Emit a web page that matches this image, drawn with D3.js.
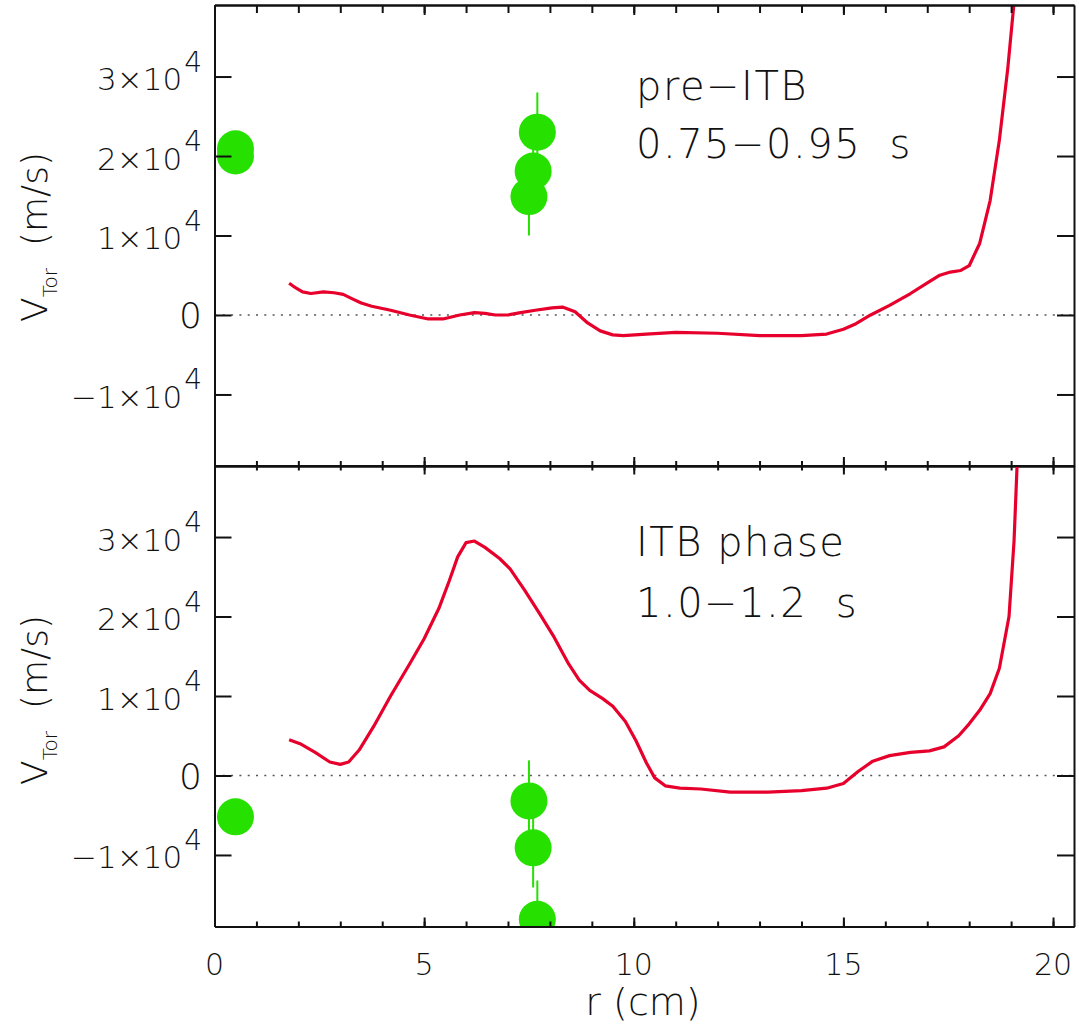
<!DOCTYPE html>
<html>
<head>
<meta charset="utf-8">
<script src="https://cdn.jsdelivr.net/npm/d3@7"></script>
<style>
  html, body { margin: 0; padding: 0; background: #fff; }
  svg text { font-family: "DejaVu Sans", sans-serif; font-weight: 200; fill: #111; }
</style>
</head>
<body>
<svg id="chart" width="1079" height="1028"></svg>
<script>
// ---- Toroidal velocity profiles, V_Tor (m/s) versus minor radius r (cm) ----

// pre-ITB phase (0.75-0.95 s): modelled profile
const preR = [1.78, 1.94, 2.1, 2.3, 2.6, 2.85, 3.07, 3.3, 3.5, 3.75, 4.2, 4.65, 5.1, 5.45, 5.85,
              6.2, 6.45, 6.7, 7.0, 7.3, 7.65, 8.05, 8.3, 8.6, 8.9, 9.2, 9.5, 9.75, 10.3, 11.0,
              12.0, 13.0, 14.0, 14.6, 15.0, 15.3, 15.65, 16.1, 16.6, 17.05, 17.3, 17.55, 17.8,
              18.0, 18.25, 18.5, 18.72, 18.92, 19.1];
const preV = [4000, 3400, 2900, 2700, 2900, 2800, 2600, 2000, 1500, 1100, 600, 0, -500, -500, 0,
              300, 200, 0, 0, 300, 600, 900, 1000, 400, -1000, -2000, -2500, -2600, -2400, -2200,
              -2300, -2600, -2600, -2400, -1800, -1100, 0, 1200, 2700, 4200, 5000, 5400, 5600,
              6200, 9000, 14400, 22000, 31000, 41000];

// pre-ITB phase: measured points with error bars
const prePtR   = [0.5, 0.5, 7.5, 7.6, 7.7];
const prePtV   = [20000, 20900, 14900, 18100, 23000];
const prePtErr = [0, 0, 4900, 5000, 5000];

// ITB phase (1.0-1.2 s): modelled profile
const itbR = [1.78, 2.04, 2.4, 2.75, 3.0, 3.2, 3.45, 3.8, 4.2, 4.65, 5.0, 5.35, 5.6, 5.8, 6.0,
              6.2, 6.45, 6.8, 7.05, 7.4, 7.75, 8.1, 8.45, 8.7, 8.95, 9.25, 9.5, 9.8, 10.05, 10.3,
              10.5, 10.75, 11.1, 11.6, 12.3, 13.2, 14.0, 14.6, 15.0, 15.35, 15.7, 16.1, 16.6,
              17.05, 17.4, 17.75, 18.0, 18.25, 18.5, 18.72, 18.95, 19.07, 19.15];
const itbV = [4500, 4000, 2900, 1700, 1400, 1700, 3200, 6200, 10000, 14000, 17200, 21000, 24500,
              27500, 29300, 29500, 28700, 27300, 26000, 23300, 20400, 17400, 14000, 12000, 10700,
              9700, 8700, 6800, 4400, 1600, -300, -1300, -1600, -1700, -2100, -2100, -1900, -1600,
              -1000, 500, 1800, 2500, 2900, 3100, 3600, 5000, 6500, 8200, 10300, 13500, 20000,
              29500, 40000];

// ITB phase: measured points with error bars
const itbPtR   = [0.5, 7.5, 7.6, 7.7];
const itbPtV   = [-5200, -3200, -9100, -18100];
const itbPtErr = [0, 5100, 5000, 4900];

// axes
const xDomain = [0, 20.5];
const yDomain = [-19000, 39000];
const xMajorTicks = [0, 5, 10, 15, 20];
const xMajorLabels = ["0", "5", "10", "15", "20"];
const xMinorTicks = d3.range(0, 21, 1);
const yTicks = [-10000, 0, 10000, 20000, 30000];
const yTickBase = ["\u22121\u00d710", "0", "1\u00d710", "2\u00d710", "3\u00d710"];
const yTickExp  = ["4", "", "4", "4", "4"];

const xTitle = "r (cm)";
const yTitleMain = "V";
const yTitleSub = "Tor";
const yTitleUnit = "(m/s)";

// ---- drawing ----
const RED = "#e8002c";
const GREEN = "#26e000";
const svg = d3.select("#chart");

const left = 214.5, right = 1074;
const x = d3.scaleLinear().domain(xDomain).range([left, right]);

function drawPanel(cfg) {
  const y = d3.scaleLinear().domain(yDomain).range([cfg.bottom, cfg.top]);
  const g = svg.append("g");

  const clipId = "clip-" + cfg.name;
  svg.append("defs").append("clipPath").attr("id", clipId)
    .append("rect").attr("x", left).attr("y", cfg.top)
    .attr("width", right - left).attr("height", cfg.bottom - cfg.top);

  const plot = g.append("g").attr("clip-path", `url(#${clipId})`);

  // dotted zero line
  plot.append("line")
    .attr("x1", left).attr("x2", right)
    .attr("y1", y(0)).attr("y2", y(0))
    .attr("stroke", "#555").attr("stroke-width", 1.6)
    .attr("stroke-dasharray", "2,6.3");

  // profile curve
  const line = d3.line().x(d => x(d[0])).y(d => y(d[1]));
  plot.append("path")
    .datum(d3.zip(cfg.curveR, cfg.curveV))
    .attr("d", line)
    .attr("fill", "none").attr("stroke", RED).attr("stroke-width", 3.2)
    .attr("stroke-linejoin", "round");

  // measured points: error bars then discs
  const pts = cfg.ptR.map((r, i) => ({ r, v: cfg.ptV[i], e: cfg.ptErr[i] }));
  plot.selectAll("line.err").data(pts.filter(p => p.e > 0)).join("line")
    .attr("class", "err")
    .attr("x1", d => x(d.r)).attr("x2", d => x(d.r))
    .attr("y1", d => y(d.v - d.e)).attr("y2", d => y(d.v + d.e))
    .attr("stroke", GREEN).attr("stroke-width", 2);
  plot.selectAll("circle.pt").data(pts).join("circle")
    .attr("class", "pt")
    .attr("cx", d => x(d.r)).attr("cy", d => y(d.v)).attr("r", 18.5)
    .attr("fill", GREEN);

  // frame ticks (all pointing inward)
  const axStyle = sel => {
    sel.selectAll("path.domain").attr("stroke", "#111").attr("stroke-width", 2);
    sel.selectAll(".tick line").attr("stroke", "#111").attr("stroke-width", 2);
    sel.selectAll(".tick text").remove();
  };
  const minorTop = cfg.name === "pre" ? 8 : 5;
  const majorTop = cfg.name === "pre" ? 10 : 9;
  g.append("g").attr("transform", `translate(0,${cfg.bottom})`)
    .call(d3.axisBottom(x).tickValues(xMinorTicks).tickSizeInner(-5).tickSizeOuter(0).tickFormat(""))
    .call(axStyle);
  g.append("g").attr("transform", `translate(0,${cfg.bottom})`)
    .call(d3.axisBottom(x).tickValues(xMajorTicks).tickSizeInner(-9).tickSizeOuter(0).tickFormat(""))
    .call(axStyle);
  g.append("g").attr("transform", `translate(0,${cfg.top})`)
    .call(d3.axisTop(x).tickValues(xMinorTicks).tickSizeInner(-minorTop).tickSizeOuter(0).tickFormat(""))
    .call(axStyle);
  g.append("g").attr("transform", `translate(0,${cfg.top})`)
    .call(d3.axisTop(x).tickValues(xMajorTicks).tickSizeInner(-majorTop).tickSizeOuter(0).tickFormat(""))
    .call(axStyle);
  g.append("g").attr("transform", `translate(${left},0)`)
    .call(d3.axisLeft(y).tickValues(yTicks).tickSizeInner(-17).tickSizeOuter(0).tickFormat(""))
    .call(axStyle);
  g.append("g").attr("transform", `translate(${right},0)`)
    .call(d3.axisRight(y).tickValues(yTicks).tickSizeInner(-17).tickSizeOuter(0).tickFormat(""))
    .call(axStyle);

  // y tick labels with superscript exponents
  yTicks.forEach((v, i) => {
    const t = g.append("text")
      .attr("x", 202).attr("y", y(v) + 13.5)
      .attr("text-anchor", "end");
    if (yTickExp[i]) {
      t.append("tspan").attr("font-size", 31).text(yTickBase[i]);
      t.append("tspan").attr("font-size", 28).attr("dx", 2).attr("dy", -18.5).text(yTickExp[i]);
    } else {
      t.append("tspan").attr("font-size", 36).text(yTickBase[i]);
    }
  });

  // y axis title (rotated)
  const yt = g.append("text")
    .attr("transform", `translate(47,${cfg.titleStart}) rotate(-90)`)
    .attr("text-anchor", "start").attr("font-size", 36);
  yt.append("tspan").text(yTitleMain);
  yt.append("tspan").attr("font-size", 20).attr("dy", 10).text(yTitleSub);
  yt.append("tspan").attr("dy", -10).attr("dx", 22).text(yTitleUnit);

  // panel annotation
  cfg.notes.forEach((s, i) => {
    g.append("text")
      .attr("x", 636).attr("y", cfg.noteY[i])
      .attr("font-size", 40).attr("letter-spacing", 1.5)
      .style("white-space", "pre")
      .text(s);
  });

  return y;
}

drawPanel({
  name: "pre", top: 5, bottom: 466,
  curveR: preR, curveV: preV, ptR: prePtR, ptV: prePtV, ptErr: prePtErr,
  titleStart: 322,
  notes: ["pre\u2212ITB", "0.75\u22120.95  s"], noteY: [100, 158]
});

drawPanel({
  name: "itb", top: 465.5, bottom: 926.5,
  curveR: itbR, curveV: itbV, ptR: itbPtR, ptV: itbPtV, ptErr: itbPtErr,
  titleStart: 785,
  notes: ["ITB phase", "1.0\u22121.2  s"], noteY: [556, 617]
});

// x tick labels and title along the bottom
svg.append("g").selectAll("text").data(xMajorTicks).join("text")
  .attr("x", d => x(d)).attr("y", 975)
  .attr("text-anchor", "middle").attr("font-size", 30)
  .text((d, i) => xMajorLabels[i]);

svg.append("text")
  .attr("x", 643).attr("y", 1015)
  .attr("text-anchor", "middle").attr("font-size", 38)
  .text(xTitle);
</script>
</body>
</html>
